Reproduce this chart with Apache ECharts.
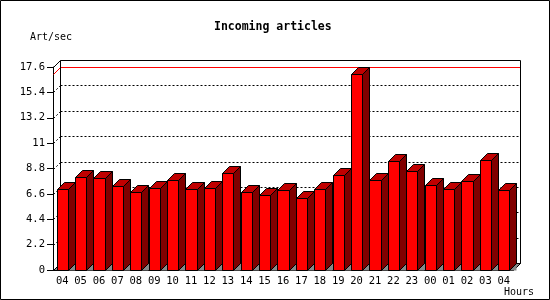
<!DOCTYPE html>
<html>
<head>
<meta charset="utf-8">
<script src="https://cdn.jsdelivr.net/npm/echarts@6/dist/echarts.min.js"></script>
<style>html,body{margin:0;padding:0;background:#fff}#c{width:550px;height:300px}</style>
</head>
<body>
<div id="c"></div>
<script>
const titleText = 'Incoming articles';
const yUnit = 'Art/sec';
const xUnit = 'Hours';
const hours = ['04','05','06','07','08','09','10','11','12','13','14','15','16','17','18','19','20','21','22','23','00','01','02','03','04'];
const articles = [7.0,8.1,8.0,7.25,6.8,7.1,7.8,7.0,7.15,8.45,6.8,6.5,6.9,6.2,7.0,8.2,16.95,7.8,9.45,8.55,7.35,7.0,7.7,9.5,6.9];
const yTickValues = [0,2.2,4.4,6.6,8.8,11,13.2,15.4,17.6];
const yTickLabels = ['0','2.2','4.4','6.6','8.8','11','13.2','15.4','17.6'];

const D = 7;
const FONT = 'DejaVu Sans Mono';
const chart = echarts.init(document.getElementById('c'), null, {renderer:'canvas'});
const maxVal = Math.max.apply(null, articles);

function frameItem(params, api) {
  const cs = params.coordSys;
  const x0 = cs.x + 0.5, x1 = cs.x + cs.width + 0.5;
  const yT = cs.y + 0.5, yB = cs.y + cs.height + 0.5;
  const ch = [];
  // floor
  ch.push({type:'polygon', shape:{points:[[x0,yB],[x1,yB],[x1+D,yB-D],[x0+D,yB-D]]},
    style:{fill:'#888888', stroke:'#000', lineWidth:1}});
  // gridlines on back wall and left wall
  for (let k = 1; k < yTickValues.length - 1; k++) {
    const y = Math.round(api.coord([0, yTickValues[k]])[1]) + 0.5;
    ch.push({type:'line', shape:{x1:x0+D, y1:y-D, x2:x1+D, y2:y-D},
      style:{stroke:'#000', lineWidth:1, lineDash:[2,2]}});
    ch.push({type:'line', shape:{x1:x0, y1:y, x2:x0+D, y2:y-D},
      style:{stroke:'#000', lineWidth:1, lineDash:[2,2]}});
  }
  // max line
  const ym = Math.round(api.coord([0, maxVal])[1]) + 0.5;
  ch.push({type:'polyline', shape:{points:[[x0,ym],[x0+D,ym-D],[x1+D,ym-D]]},
    style:{stroke:'#ff0000', fill:null, lineWidth:1}});
  // box edges
  ch.push({type:'polyline', shape:{points:[[x0,yT],[x0+D,yT-D],[x1+D,yT-D],[x1+D,yB-D],[x1,yB]]},
    style:{stroke:'#000', fill:null, lineWidth:1}});
  ch.push({type:'line', shape:{x1:x0+D, y1:yT-D, x2:x0+D, y2:yB-D}, style:{stroke:'#000', lineWidth:1}});
  return {type:'group', children:ch};
}

function barItem(params, api) {
  const v = api.value(1);
  const p = api.coord([api.value(0), v]);
  const b = api.coord([api.value(0), 0]);
  const w = api.size([1, 0])[0] * 0.6;
  const xl = Math.round(p[0] - w / 2) + 0.5;
  const xr = Math.round(p[0] + w / 2) + 0.5;
  const yt = Math.round(p[1]) + 0.5;
  const yb = Math.round(b[1]) + 0.5;
  const s = {stroke:'#000', lineWidth:1};
  return {type:'group', children:[
    {type:'polygon', shape:{points:[[xr,yb],[xr+D,yb],[xr+D,yb-D]]}, style:Object.assign({fill:'#888888'}, {stroke:null})},
    {type:'polygon', shape:{points:[[xr,yt],[xr+D,yt-D],[xr+D,yb-D],[xr,yb]]}, style:Object.assign({fill:'#800000'}, s)},
    {type:'polygon', shape:{points:[[xl,yt],[xl+D,yt-D],[xr+D,yt-D],[xr,yt]]}, style:Object.assign({fill:'#c00000'}, s)},
    {type:'rect', shape:{x:xl, y:yt, width:xr-xl, height:yb-yt}, style:Object.assign({fill:'#ff0000'}, s)}
  ]};
}

chart.setOption({
  animation:false,
  backgroundColor:'#fff',
  grid:{left:53, right:37, top:67, bottom:30, containLabel:false},
  xAxis:{type:'category', data:hours, boundaryGap:true,
    axisLine:{lineStyle:{color:'#000', width:1}},
    axisTick:{length:5, lineStyle:{color:'#000'}},
    axisLabel:{interval:0, margin:6, color:'#000', fontFamily:FONT, fontSize:10.5},
    splitLine:{show:false}},
  yAxis:{type:'value', min:0, max:17.6, interval:2.2,
    axisLine:{show:true, lineStyle:{color:'#000', width:1}},
    axisTick:{show:true, length:6, lineStyle:{color:'#000'}},
    axisLabel:{margin:8, color:'#000', fontFamily:FONT, fontSize:10.5,
      formatter:function(v){ const i = yTickValues.findIndex(t=>Math.abs(t-v)<1e-6); return i>=0 ? yTickLabels[i] : ''; }},
    splitLine:{show:false}},
  series:[
    {type:'custom', silent:true, z:1, clip:false, renderItem:frameItem, data:[[0,0]]},
    {type:'custom', silent:true, z:3, clip:false, renderItem:barItem, data:articles.map((v,i)=>[i,v])}
  ],
  graphic:[
    {type:'rect', shape:{x:0.5, y:0.5, width:549, height:299}, style:{fill:null, stroke:'#000', lineWidth:1}, z:10},
    {type:'text', left:214, top:21, style:{text:titleText, font:'bold 11.5px "DejaVu Sans Mono"', fill:'#000'}},
    {type:'text', left:30, top:32, style:{text:yUnit, font:'10px "DejaVu Sans Mono"', fill:'#000'}},
    {type:'text', left:504, top:287, style:{text:xUnit, font:'10px "DejaVu Sans Mono"', fill:'#000'}}
  ]
});
</script>
</body>
</html>
